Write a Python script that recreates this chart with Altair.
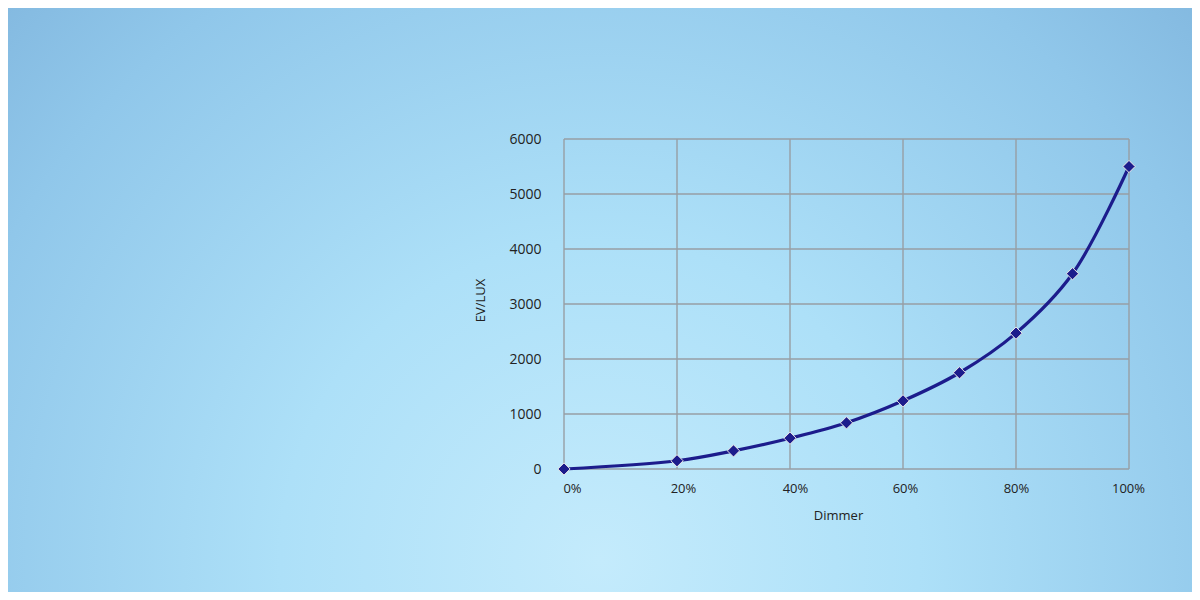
import altair as alt
import pandas as pd

# ---- data ----
dimmer = [0, 20, 30, 40, 50, 60, 70, 80, 90, 100]
lux = [0, 150, 330, 560, 840, 1240, 1750, 2470, 3550, 5500]
x_ticks = [0, 20, 40, 60, 80, 100]
y_ticks = [0, 1000, 2000, 3000, 4000, 5000, 6000]
x_title = "Dimmer"
y_title = "EV/LUX"

# ---- layout / style ----
W, H = 1184, 584
X_RANGE = [556, 1121]
Y_RANGE = [461, 131]
FONT = "Open Sans"
TEXT = "#222222"
GRID = "#979ea4"
LINE = "#1c1c8c"

xs = alt.Scale(domain=[0, 100], range=X_RANGE, nice=False, zero=False)
ys = alt.Scale(domain=[0, 6000], range=Y_RANGE, nice=False, zero=False)

df = pd.DataFrame({"dimmer": dimmer, "lux": lux})
vgrid = pd.DataFrame({"x": x_ticks, "y0": [0] * len(x_ticks), "y1": [6000] * len(x_ticks)})
hgrid = pd.DataFrame({"y": y_ticks, "x0": [0] * len(y_ticks), "x1": [100] * len(y_ticks)})

bg_fill = {
    "gradient": "radial",
    "x1": 0.5, "y1": 0.72, "r1": 0,
    "x2": 0.5, "y2": 0.72, "r2": 0.9,
    "stops": [
        {"offset": 0.0, "color": "#c4ebfc"},
        {"offset": 0.3, "color": "#ade0f8"},
        {"offset": 0.63, "color": "#90c7ea"},
        {"offset": 0.95, "color": "#73a7d3"},
        {"offset": 1.0, "color": "#70a4d0"},
    ],
}

x_axis = alt.Axis(
    values=x_ticks,
    labelExpr="datum.value + '%'",
    grid=False, domain=False, ticks=False, tickSize=0,
    labelFlush=False, labelOverlap=False,
    labelFont=FONT, labelFontSize=13, labelColor=TEXT,
    labelBaseline="middle", labelPadding=19,
    labelOffset={"condition": [
        {"test": "datum.value == 0", "value": 8},
        {"test": "datum.value == 20", "value": 6},
        {"test": "datum.value == 40", "value": 5},
        {"test": "datum.value == 60", "value": 2},
        {"test": "datum.value == 80", "value": 0},
    ], "value": -1},
    offset=-(H - Y_RANGE[0]),
    title=x_title, titleFont=FONT, titleFontSize=13, titleFontWeight="normal",
    titleColor=TEXT, titleX=830, titleY=46, titleBaseline="middle", titleAlign="center",
    zindex=1,
)

y_axis = alt.Axis(
    values=y_ticks,
    format="d",
    grid=False, domain=False, ticks=False, tickSize=0,
    labelFlush=False, labelOverlap=False,
    labelFont=FONT, labelFontSize=14, labelColor=TEXT,
    labelBaseline="middle", labelPadding=23,
    offset=-X_RANGE[0],
    title=y_title, titleFont=FONT, titleFontSize=13, titleFontWeight="normal",
    titleColor=TEXT, titleX=-84, titleY=292, titleAngle=270,
    titleBaseline="middle", titleAlign="center",
    zindex=1,
)

background = alt.Chart(alt.Data(values=[{"a": 1}])).mark_rect(fill=bg_fill).encode(
    x=alt.value(0), x2=alt.value(W), y=alt.value(0), y2=alt.value(H)
)

vrules = alt.Chart(vgrid).mark_rule(color=GRID, strokeWidth=1.4).encode(
    x=alt.X("x:Q", scale=xs, axis=x_axis),
    y=alt.Y("y0:Q", scale=ys, axis=y_axis),
    y2="y1:Q",
)

hrules = alt.Chart(hgrid).mark_rule(color=GRID, strokeWidth=1.4).encode(
    y=alt.Y("y:Q", scale=ys, axis=y_axis),
    x=alt.X("x0:Q", scale=xs, axis=x_axis),
    x2="x1:Q",
)

line = alt.Chart(df).mark_line(color=LINE, strokeWidth=3.2, interpolate="catmull-rom").encode(
    x=alt.X("dimmer:Q", scale=xs, axis=x_axis),
    y=alt.Y("lux:Q", scale=ys, axis=y_axis),
)

points = alt.Chart(df).mark_point(
    shape="diamond", filled=True, fill=LINE, stroke="#ece6e6", strokeWidth=1,
    size=150, opacity=1,
).encode(
    x=alt.X("dimmer:Q", scale=xs, axis=x_axis),
    y=alt.Y("lux:Q", scale=ys, axis=y_axis),
)

chart = alt.layer(background, vrules, hrules, line, points).properties(
    width=W, height=H,
    autosize=alt.AutoSizeParams(type="fit", contains="padding"),
    padding=0,
    background="#9ccfee",
).configure_view(stroke=None)

chart.save("out.html", embed_options={"renderer": "svg", "actions": False})
